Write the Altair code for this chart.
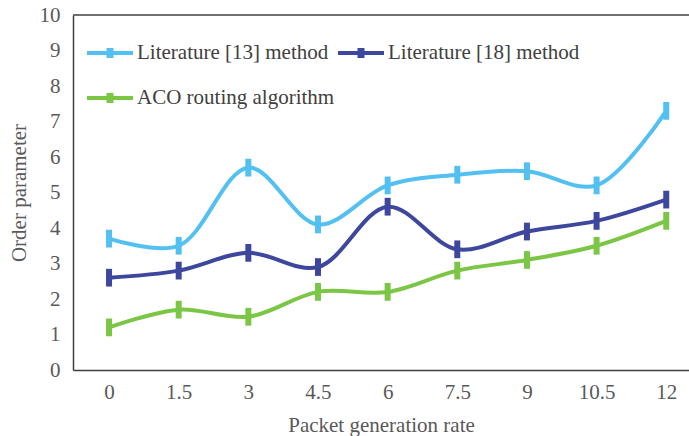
import altair as alt
import pandas as pd

rates = [0, 1.5, 3, 4.5, 6, 7.5, 9, 10.5, 12]
lit13 = [3.7, 3.5, 5.7, 4.1, 5.2, 5.5, 5.6, 5.2, 7.3]
lit18 = [2.6, 2.8, 3.3, 2.9, 4.6, 3.4, 3.9, 4.2, 4.8]
aco = [1.2, 1.7, 1.5, 2.2, 2.2, 2.8, 3.1, 3.5, 4.2]
series_names = ["Literature [13] method", "Literature [18] method", "ACO routing algorithm"]
series_colors = ["#52C0F0", "#3E479E", "#7CC646"]
err = 0.25

rows = []
for name, vals in zip(series_names, [lit13, lit18, aco]):
    for r, v in zip(rates, vals):
        rows.append({"rate": r, "value": v, "series": name})
df = pd.DataFrame(rows)

font = "Liberation Serif"
gray = "#595959"
frame = "#404040"

cscale = alt.Scale(domain=series_names, range=series_colors)
yscale = alt.Scale(domain=[0, 10], nice=False)
xscale = alt.Scale(domain=[-0.776, 12.49], nice=False, zero=False)

color = alt.Color(
    "series:N",
    scale=cscale,
    sort=series_names,
    legend=alt.Legend(
        title=None,
        orient="none",
        direction="horizontal",
        legendX=25,
        legendY=26,
        columns=2,
        columnPadding=-5,
        rowPadding=22,
        padding=0,
        labelFont=font,
        labelFontSize=21,
        labelColor="#404040",
        labelOffset=15,
        labelLimit=400,
        symbolType="M-2.3,0H2.3M-0.35,-0.3H0.35M-0.35,-0.15H0.35M-0.35,0H0.35M-0.35,0.15H0.35M-0.35,0.3H0.35",
        symbolSize=400,
        symbolStrokeWidth=4,
    ),
)

xaxis = alt.Axis(
    values=rates,
    labelExpr="datum.value + ''",
    title="Packet generation rate",
    labelPadding=11,
    titlePadding=12,
)
yaxis = alt.Axis(
    values=list(range(0, 11)),
    title="Order parameter",
    labelPadding=13,
    labelOverlap=False,
    titlePadding=10,
)

base = alt.Chart(df)

top_border = alt.Chart(pd.DataFrame({"top": [10]})).mark_rule(
    color=frame, strokeWidth=1.5
).encode(
    y=alt.Y("top:Q", scale=yscale, axis=yaxis),
    x=alt.value(0),
    x2=alt.value("width"),
)

lines = base.mark_line(interpolate="catmull-rom", strokeWidth=4).encode(
    x=alt.X("rate:Q", scale=xscale, axis=xaxis),
    y=alt.Y("value:Q", scale=yscale, axis=yaxis),
    color=color,
)

bars = base.transform_calculate(
    lo=f"datum.value - {err}", hi=f"datum.value + {err}"
).mark_rule(strokeWidth=6).encode(
    x=alt.X("rate:Q", scale=xscale, axis=xaxis),
    y=alt.Y("lo:Q", scale=yscale, axis=yaxis),
    y2="hi:Q",
    color=alt.Color("series:N", scale=cscale, legend=None),
)

chart = alt.layer(top_border, lines, bars).properties(
    width=616,
    height=355,
    autosize=alt.AutoSizeParams(type="none"),
    padding={"left": 73, "top": 15, "right": 0, "bottom": 66},
).configure(
    background="white",
    font=font,
    view=alt.ViewConfig(stroke=None),
    axis=alt.AxisConfig(
        grid=False,
        ticks=False,
        domainColor=frame,
        domainWidth=1.5,
        labelFont=font,
        labelFontSize=21,
        labelColor=gray,
        titleFont=font,
        titleFontSize=21,
        titleFontWeight="normal",
        titleColor=gray,
    ),
)

chart.save("out.html", embed_options={"renderer": "svg", "actions": False})
